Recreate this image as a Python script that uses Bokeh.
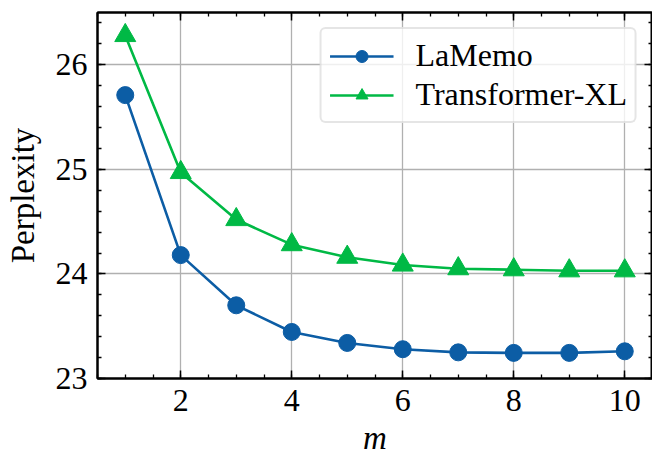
from bokeh.plotting import figure
from bokeh.models import SingleIntervalTicker, LinearAxis, Range1d, Legend, LegendItem, CustomJSTickFormatter
from bokeh.embed import file_html
from bokeh.resources import INLINE

# data
m_values = [1, 2, 3, 4, 5, 6, 7, 8, 9, 10]
lamemo_ppl = [25.71, 24.18, 23.70, 23.445, 23.34, 23.28, 23.25, 23.245, 23.245, 23.26]
txl_ppl = [26.28, 24.97, 24.52, 24.28, 24.16, 24.085, 24.05, 24.04, 24.03, 24.03]
series_names = ["LaMemo", "Transformer-XL"]
x_label = "m"
y_label = "Perplexity"

FONT = "Liberation Serif"
FS = "32px"
FS_LABEL = "33px"
BLUE = "#0C5DA5"
GREEN = "#00B945"

p = figure(width=652, height=458,
           x_range=Range1d(0.5, 10.5), y_range=Range1d(23.0, 26.5),
           output_backend="svg", toolbar_location=None,
           min_border_left=97, min_border_right=0,
           min_border_top=12, min_border_bottom=80,
           x_axis_label=x_label, y_axis_label=y_label)
p.background_fill_color = "white"
p.border_fill_color = "white"
p.outline_line_color = "black"
p.outline_line_width = 2

xa = p.below[0]
ya = p.left[0]

xt = SingleIntervalTicker(interval=2, num_minor_ticks=4)
yt = SingleIntervalTicker(interval=1, num_minor_ticks=5)
xa.ticker = xt
ya.ticker = yt

blank = CustomJSTickFormatter(code="return '';")
extra_x = LinearAxis(ticker=xt, formatter=blank)
extra_y = LinearAxis(ticker=yt, formatter=blank)
p.add_layout(extra_x, "above")
p.add_layout(extra_y, "right")

for ax in [xa, ya, extra_x, extra_y]:
    ax.axis_line_color = "black"
    ax.axis_line_width = 2
    ax.major_tick_in = 8
    ax.major_tick_out = 0
    ax.minor_tick_in = 4
    ax.minor_tick_out = 0
    ax.major_tick_line_width = 1.5
    ax.minor_tick_line_width = 1.3
    ax.major_tick_line_color = "black"
    ax.minor_tick_line_color = "black"
    ax.major_label_text_font = FONT
    ax.major_label_text_font_size = FS
    ax.major_label_text_color = "black"
    ax.axis_label_text_font = FONT
    ax.axis_label_text_font_size = FS_LABEL
    ax.axis_label_text_color = "black"
    ax.axis_label_text_font_style = "normal"

for ax in [extra_x, extra_y]:
    ax.major_label_standoff = 0
    ax.major_label_text_font_size = "1px"

xa.axis_label_text_font_style = "italic"
xa.major_label_standoff = 11
xa.axis_label_standoff = 6
ya.major_label_standoff = 10
ya.axis_label_standoff = 12

p.grid.grid_line_color = "#b0b0b0"
p.grid.grid_line_width = 1.3

l1 = p.line(m_values, lamemo_ppl, line_color=BLUE, line_width=2.6)
s1 = p.scatter(m_values, lamemo_ppl, marker="circle", size=17, fill_color=BLUE, line_color=BLUE)
l2 = p.line(m_values, txl_ppl, line_color=GREEN, line_width=2.6)
s2 = p.scatter(m_values, txl_ppl, marker="triangle", size=21, fill_color=GREEN, line_color=GREEN)

legend = Legend(items=[LegendItem(label=series_names[0], renderers=[l1, s1]),
                       LegendItem(label=series_names[1], renderers=[l2, s2])],
                location="top_right")
legend.margin = 15
legend.padding = 8
legend.spacing = 2
legend.label_height = 30
legend.glyph_height = 30
legend.glyph_width = 64
legend.label_standoff = 22
legend.label_text_font = FONT
legend.label_text_font_size = FS
legend.label_text_color = "black"
legend.border_line_color = "#cccccc"
legend.border_line_width = 2.5
legend.background_fill_color = "white"
legend.background_fill_alpha = 0.8
try:
    legend.border_radius = 6
except Exception:
    pass
p.add_layout(legend)

open("out.html", "w").write(file_html(p, INLINE))
